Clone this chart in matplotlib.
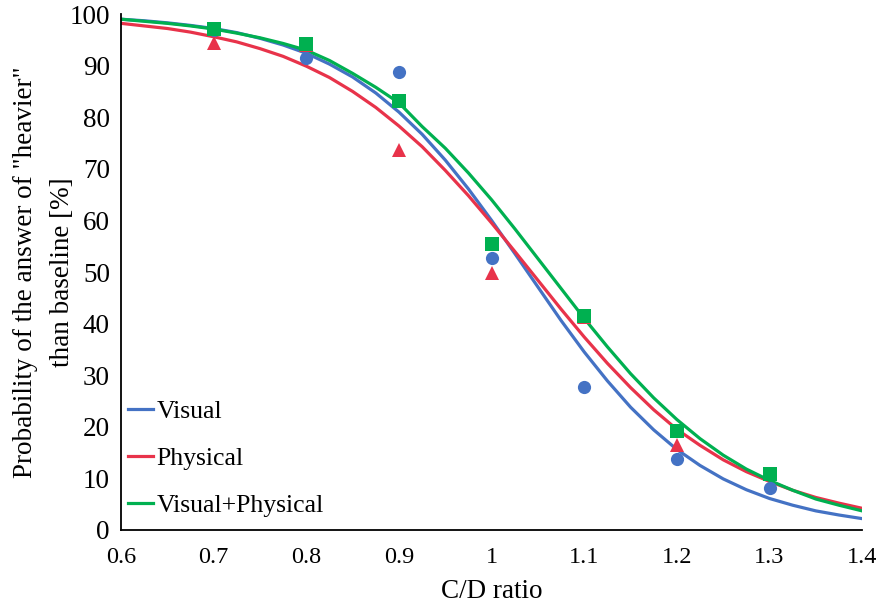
import matplotlib
matplotlib.use("Agg")
from matplotlib import pyplot as plt

# measured points
ratio = [0.7, 0.8, 0.9, 1.0, 1.1, 1.2, 1.3]
visual_pts = [97.0, 91.5, 88.8, 52.7, 27.7, 13.8, 8.1]
physical_pts = [94.4, 94.0, 73.6, 49.8, 41.3, 16.5, 10.8]
combined_pts = [97.1, 94.2, 83.1, 55.4, 41.5, 19.2, 10.9]

# fitted curves, every 0.025
curve_x = [0.6, 0.625, 0.65, 0.675, 0.7, 0.725, 0.75, 0.775, 0.8,
           0.825, 0.85, 0.875, 0.9, 0.925, 0.95, 0.975, 1.0,
           1.025, 1.05, 1.075, 1.1, 1.125, 1.15, 1.175, 1.2,
           1.225, 1.25, 1.275, 1.3, 1.325, 1.35, 1.375, 1.4]
visual_fit = [99.0, 98.7, 98.3, 97.8, 97.2, 96.4, 95.3, 94.0, 92.4,
              90.3, 87.8, 84.7, 81.0, 76.7, 71.7, 66.1, 60.0,
              53.6, 47.1, 40.6, 34.5, 28.9, 23.8, 19.4, 15.6,
              12.5, 9.9, 7.8, 6.1, 4.8, 3.7, 2.9, 2.2]
physical_fit = [98.2, 97.7, 97.2, 96.5, 95.6, 94.6, 93.3, 91.8, 89.9,
                87.7, 85.0, 81.9, 78.3, 74.3, 69.7, 64.8, 59.5,
                54.0, 48.4, 42.8, 37.4, 32.3, 27.6, 23.3, 19.5,
                16.4, 13.6, 11.3, 9.4, 7.7, 6.3, 5.2, 4.2]
combined_fit = [99.0, 98.6, 98.2, 97.7, 97.1, 96.3, 95.4, 94.3, 93.0,
                91.0, 88.5, 85.8, 82.8, 78.2, 74.0, 69.2, 64.0,
                58.4, 52.6, 46.8, 41.0, 35.5, 30.3, 25.6, 21.4,
                17.7, 14.5, 11.8, 9.6, 7.7, 6.0, 4.8, 3.7]

x_ticks = [0.6, 0.7, 0.8, 0.9, 1.0, 1.1, 1.2, 1.3, 1.4]
x_tick_labels = ["0.6", "0.7", "0.8", "0.9", "1", "1.1", "1.2", "1.3", "1.4"]
y_ticks = list(range(0, 101, 10))

BLUE = "#4472C4"
RED = "#E8334A"
GREEN = "#00B050"

plt.rcParams["font.family"] = ["Liberation Serif", "DejaVu Serif"]
plt.rcParams["font.size"] = 19.5

fig = plt.figure(figsize=(8.78, 6.11), dpi=100)
ax = fig.add_axes([0.1378, 0.1326, 0.8442, 0.8444])

ax.plot(curve_x, visual_fit, color=BLUE, lw=2.3, label="Visual", zorder=2)
ax.plot(curve_x, physical_fit, color=RED, lw=2.3, label="Physical", zorder=2)
ax.plot(curve_x, combined_fit, color=GREEN, lw=2.3, label="Visual+Physical", zorder=2)

ax.plot(ratio, visual_pts, "o", color=BLUE, ms=9.5, mew=0, zorder=3)
ax.plot(ratio, physical_pts, "^", color=RED, ms=9.5, mew=0, zorder=3)
ax.plot(ratio, combined_pts, "s", color=GREEN, ms=9.5, mew=0, zorder=4)

ax.set_xlim(0.6, 1.4)
ax.set_ylim(0, 100)
ax.set_xticks(x_ticks)
ax.set_xticklabels(x_tick_labels)
ax.set_yticks(y_ticks)
ax.tick_params(axis="x", length=0, pad=12, labelsize=17.5)
ax.tick_params(axis="y", length=0, pad=8)

ax.spines["top"].set_visible(False)
ax.spines["right"].set_visible(False)
ax.spines["left"].set_linewidth(1.3)
ax.spines["bottom"].set_linewidth(1.3)

ax.set_xlabel("C/D ratio", labelpad=8)
ax.set_ylabel('Probability of the answer of "heavier"\nthan baseline [%]',
              labelpad=-4, linespacing=1.62)

ax.legend(loc="lower left", bbox_to_anchor=(-0.005, 0.006), frameon=False,
          fontsize=18.5, handlelength=1.0, handletextpad=0.12, labelspacing=0.92,
          borderaxespad=0.2, borderpad=0.2)

fig.savefig("out.png", dpi=100)
